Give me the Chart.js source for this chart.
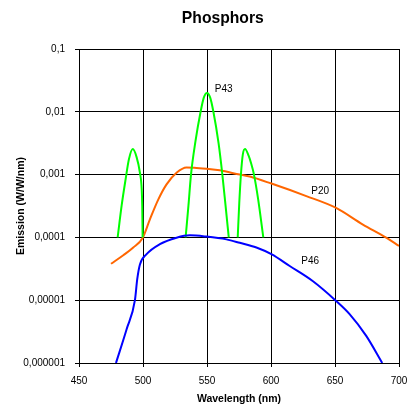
<!DOCTYPE html>
<html><head><meta charset="utf-8">
<script src="https://cdn.jsdelivr.net/npm/chart.js@4/dist/chart.umd.min.js"></script>
<style>html,body{margin:0;padding:0;background:#fff}#wrap{width:411px;height:407px}</style>
</head><body><div id="wrap"><canvas id="c" width="411" height="407"></canvas></div>
<script>
// ---- data ----
const chartTitle = 'Phosphors';
const xAxisTitle = 'Wavelength (nm)';
const yAxisTitle = 'Emission (W/W/nm)';
const xTickValues = [450, 500, 550, 600, 650, 700];
const yTickValues = [0.000001, 0.00001, 0.0001, 0.001, 0.01, 0.1];
const yTickLabels = ['0,000001', '0,00001', '0,0001', '0,001', '0,01', '0,1'];

// P43 (green) - three separate emission lines
const p43aX = [480.2, 483.3, 486.4, 489, 492, 495, 497.6, 499, 499.4, 499.7];
const p43aY = [1e-4, 3.2e-4, 8.4e-4, 1.75e-3, 2.55e-3, 1.9e-3, 1.07e-3, 5.8e-4, 3.2e-4, 1e-4];
const p43bX = [533.3, 535.5, 537.5, 541, 545, 547.5, 550, 552.5, 555, 559, 562, 564.5, 567];
const p43bY = [1e-4, 3.2e-4, 1e-3, 3.4e-3, 1e-2, 1.68e-2, 2.0e-2, 1.68e-2, 1e-2, 3.2e-3, 1e-3, 3.2e-4, 1e-4];
const p43cX = [574, 575.2, 576.5, 578, 579.7, 582.5, 584.5, 586.7, 590, 594];
const p43cY = [1e-4, 3.5e-4, 1e-3, 2.1e-3, 2.55e-3, 2.0e-3, 1.5e-3, 1e-3, 4e-4, 1e-4];

// P20 (orange)
const p20X = [475, 484.6, 492.4, 499.7, 505.4, 511.9, 518.4, 526.2, 534, 540, 549.6, 560, 575.6, 583.4, 600.3, 627.6, 650.5, 671.8, 690, 700];
const p20Y = [3.8e-5, 5.2e-5, 6.9e-5, 9.8e-5, 1.94e-4, 4.0e-4, 7.0e-4, 1.07e-3, 1.3e-3, 1.29e-3, 1.24e-3, 1.17e-3, 1.0e-3, 9.3e-4, 7.2e-4, 4.55e-4, 2.97e-4, 1.6e-4, 9.9e-5, 7.3e-5];

// P46 (blue)
const p46X = [478.9, 487.2, 493.7, 495.5, 497.6, 502.8, 513.2, 526.2, 536.6, 549.6, 565.2, 575.6, 588.6, 600.3, 614.6, 632.8, 650.2, 661.4, 674.4, 686.9];
const p46Y = [1e-6, 3.44e-6, 1e-5, 2.16e-5, 3.7e-5, 5.4e-5, 7.8e-5, 9.9e-5, 1.08e-4, 1.03e-4, 9.3e-5, 8.2e-5, 6.9e-5, 5.4e-5, 3.5e-5, 2.0e-5, 1e-5, 6.0e-6, 2.7e-6, 1e-6];

// series labels and their anchor (data coordinates)
const seriesNames = ['P43', 'P20', 'P46'];
const labelX = [556.1, 631.5, 623.7];
const labelY = [0.0226, 5.46e-4, 4.17e-5];

// ---- chart ----
const FONT = '"Liberation Sans", Arial, Helvetica, sans-serif';
function pts(xs, ys) { return xs.map((x, i) => ({ x: x, y: ys[i] })); }

const GREEN = '#00FF00', ORANGE = '#FF6600', BLUE = '#0000FF';
const lineStyle = { pointRadius: 0, borderWidth: 2, fill: false, cubicInterpolationMode: 'monotone' };

const annot = {
  id: 'annot',
  afterDraw(chart) {
    const ctx = chart.ctx, xs = chart.scales.x, ys = chart.scales.y;
    ctx.save();
    ctx.fillStyle = '#000';
    ctx.textBaseline = 'middle';
    ctx.textAlign = 'left';
    ctx.font = '10px ' + FONT;
    seriesNames.forEach((n, i) => ctx.fillText(n, xs.getPixelForValue(labelX[i]), ys.getPixelForValue(labelY[i])));
    ctx.textAlign = 'center';
    ctx.font = 'bold 15.7px ' + FONT;
    ctx.fillText(chartTitle, 222.8, 19);
    ctx.restore();
  }
};

new Chart(document.getElementById('c'), {
  type: 'line',
  data: {
    datasets: [
      Object.assign({ label: 'P46', data: pts(p46X, p46Y), borderColor: BLUE }, lineStyle),
      Object.assign({ label: 'P43', data: pts(p43aX, p43aY), borderColor: GREEN }, lineStyle),
      Object.assign({ label: 'P43 b', data: pts(p43bX, p43bY), borderColor: GREEN }, lineStyle),
      Object.assign({ label: 'P43 c', data: pts(p43cX, p43cY), borderColor: GREEN }, lineStyle),
      Object.assign({ label: 'P20', data: pts(p20X, p20Y), borderColor: ORANGE }, lineStyle)
    ]
  },
  options: {
    responsive: false,
    animation: false,
    devicePixelRatio: 1,
    layout: { padding: { top: 49, right: 12, bottom: 0, left: 0 } },
    plugins: { legend: { display: false }, title: { display: false }, tooltip: { enabled: false } },
    scales: {
      x: {
        type: 'linear', min: 450, max: 700,
        afterBuildTicks: s => { s.ticks = xTickValues.map(v => ({ value: v })); },
        afterFit: s => { s.height = 44; s.paddingLeft = 0; s.paddingRight = 0; },
        grid: { color: '#000', lineWidth: 1, tickLength: 4, tickColor: '#000' },
        border: { display: true, color: '#000', width: 1 },
        ticks: { color: '#000', font: { family: FONT, size: 10 }, padding: 8, maxRotation: 0 },
        title: { display: true, text: xAxisTitle, color: '#000', font: { family: FONT, size: 10.5, weight: 'bold' }, padding: { top: 0, bottom: 2 } }
      },
      y: {
        type: 'logarithmic', min: 0.000001, max: 0.1,
        afterBuildTicks: s => { s.ticks = yTickValues.map(v => ({ value: v })); },
        afterFit: s => { s.width = 79; s.paddingTop = 0; s.paddingBottom = 0; },
        grid: { color: '#000', lineWidth: 1, tickLength: 4, tickColor: '#000' },
        border: { display: true, color: '#000', width: 1 },
        ticks: {
          color: '#000', font: { family: FONT, size: 10 }, padding: 10,
          callback: (v) => { const i = yTickValues.findIndex(t => Math.abs(t - v) / t < 1e-6); return i >= 0 ? yTickLabels[i] : ''; }
        },
        title: { display: true, text: yAxisTitle, color: '#000', font: { family: FONT, size: 10.5, weight: 'bold' }, padding: { top: 14.7, bottom: 0 } }
      }
    }
  },
  plugins: [annot]
});
</script></body></html>
